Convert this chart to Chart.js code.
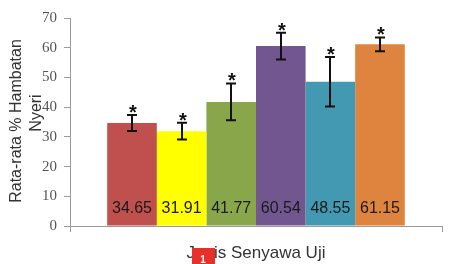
<!DOCTYPE html>
<html>
<head>
<meta charset="utf-8">
<script src="https://cdn.jsdelivr.net/npm/chart.js@4"></script>
<style>
  html, body { margin: 0; padding: 0; background: #fff; }
  #wrap { width: 470px; height: 264px; }
</style>
</head>
<body>
<div id="wrap"><canvas id="chart" width="470" height="264"></canvas></div>
<script>
// data
const categories = [''];
const seriesNames = ['Senyawa 1', 'Senyawa 2', 'Senyawa 3', 'Senyawa 4', 'Senyawa 5', 'Senyawa 6'];
const values = [34.65, 31.91, 41.77, 60.54, 48.55, 61.15];
const errors = [2.7, 2.8, 6.2, 4.5, 8.3, 2.3];
const colors = ['#C0504D', '#FFFF00', '#8AA64B', '#725690', '#4399B1', '#DE843E'];
const yMin = 0, yMax = 70, yStep = 10;

// error bars, asterisks and values inside the bars
const barExtras = {
    id: 'barExtras',
    afterDatasetsDraw(chart) {
        const ctx = chart.ctx;
        const y = chart.scales.y;
        ctx.save();
        values.forEach((v, i) => {
            const bar = chart.getDatasetMeta(i).data[0];
            const x = Math.round(bar.x);
            const top = y.getPixelForValue(v + errors[i]);
            const bot = y.getPixelForValue(v - errors[i]);
            ctx.strokeStyle = '#111';
            ctx.lineWidth = 2;
            ctx.beginPath();
            ctx.moveTo(x, top); ctx.lineTo(x, bot);
            ctx.moveTo(x - 5, top); ctx.lineTo(x + 5, top);
            ctx.moveTo(x - 5, bot); ctx.lineTo(x + 5, bot);
            ctx.stroke();

            ctx.fillStyle = '#111';
            ctx.font = 'bold 20px "Liberation Sans", Arial, sans-serif';
            ctx.textAlign = 'center';
            ctx.textBaseline = 'alphabetic';
            ctx.fillText('*', x + 1, top + 4);

            ctx.fillStyle = '#1a1a1a';
            ctx.font = '16px "Liberation Sans", Arial, sans-serif';
            ctx.textBaseline = 'middle';
            ctx.fillText(v.toFixed(2), bar.x, 209);
        });
        ctx.restore();
    },
    afterDraw(chart) {
        const ctx = chart.ctx;
        ctx.save();
        ctx.fillStyle = '#333';
        ctx.textAlign = 'center';
        ctx.textBaseline = 'middle';
        ctx.font = '17px "Liberation Sans", Arial, sans-serif';
        ctx.fillText('Jenis Senyawa Uji', 256, 253);

        ctx.font = '16px "Liberation Sans", Arial, sans-serif';
        ctx.translate(17, 121);
        ctx.rotate(-Math.PI / 2);
        ctx.fillText('Rata-rata % Hambatan', 0, 0);
        ctx.fillText('Nyeri', 8, 20);
        ctx.restore();

        // little red marker over the axis title
        ctx.save();
        ctx.fillStyle = '#E8302A';
        ctx.fillRect(192, 248, 23, 16);
        ctx.fillStyle = '#fff';
        ctx.font = 'bold 10px "Liberation Sans", Arial, sans-serif';
        ctx.textAlign = 'center';
        ctx.textBaseline = 'bottom';
        ctx.fillText('1', 203, 265);
        ctx.restore();
    }
};

new Chart(document.getElementById('chart').getContext('2d'), {
    type: 'bar',
    data: {
        labels: categories,
        datasets: seriesNames.map((name, i) => ({
            label: name,
            data: [values[i]],
            backgroundColor: colors[i],
            borderWidth: 0,
            barPercentage: 1,
            categoryPercentage: 0.8
        }))
    },
    options: {
        responsive: false,
        animation: false,
        layout: { padding: { top: 18, right: 28, left: 0, bottom: 0 } },
        scales: {
            x: {
                afterFit: s => { s.height = 38; },
                grid: { drawOnChartArea: false, tickLength: 6, color: '#9a9a9a' },
                border: { color: '#9a9a9a' },
                ticks: { display: false }
            },
            y: {
                min: yMin, max: yMax,
                afterFit: s => { s.width = 70; },
                grid: { drawOnChartArea: false, tickLength: 6, color: '#9a9a9a' },
                border: { color: '#9a9a9a' },
                ticks: {
                    stepSize: yStep,
                    padding: 7,
                    color: '#555',
                    font: { family: 'Liberation Serif', size: 15 }
                }
            }
        },
        plugins: {
            legend: { display: false },
            tooltip: { enabled: false }
        }
    },
    plugins: [barExtras]
});
</script>
</body>
</html>
